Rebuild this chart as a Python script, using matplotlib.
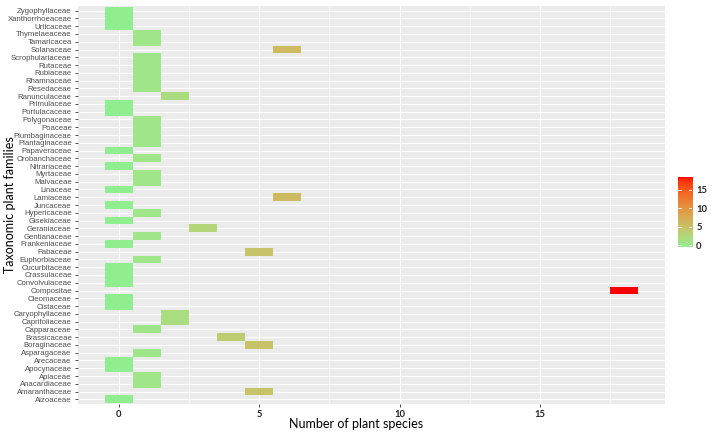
import numpy as np
import matplotlib.pyplot as plt
from matplotlib.colors import ListedColormap, Normalize, to_rgb

# families, bottom to top (alphabetical)
families = ['Aizoaceae', 'Amaranthaceae', 'Anacardiaceae', 'Apiaceae', 'Apocynaceae',
            'Arecaceae', 'Asparagaceae', 'Boraginaceae', 'Brassicaceae', 'Capparaceae',
            'Caprifoliaceae', 'Caryophyllaceae', 'Cistaceae', 'Cleomaceae', 'Compositae',
            'Convolvulaceae', 'Crassulaceae', 'Cucurbitaceae', 'Euphorbiaceae', 'Fabaceae',
            'Frankeniaceae', 'Gentianaceae', 'Geraniaceae', 'Gisekiaceae', 'Hypericaceae',
            'Juncaceae', 'Lamiaceae', 'Linaceae', 'Malvaceae', 'Myrtaceae',
            'Nitrariaceae', 'Orobanchaceae', 'Papaveraceae', 'Plantaginaceae', 'Plumbaginaceae',
            'Poaceae', 'Polygonaceae', 'Portulacaceae', 'Primulaceae', 'Ranunculaceae',
            'Resedaceae', 'Rhamnaceae', 'Rubiaceae', 'Rutaceae', 'Scrophulariaceae',
            'Solanaceae', 'Tamaricacea', 'Thymelaeaceae', 'Urticaceae', 'Xanthorrhoeaceae',
            'Zygophyllaceae']
species = [0, 5, 1, 1, 0,
           0, 1, 5, 4, 1,
           2, 2, 0, 0, 18,
           0, 0, 0, 1, 5,
           0, 1, 3, 0, 1,
           0, 6, 0, 1, 1,
           0, 1, 0, 1, 1,
           1, 1, 0, 0, 2,
           1, 1, 1, 1, 1,
           6, 1, 1, 0, 0,
           0]
legend_ticks = [0, 5, 10, 15]


# ggplot-like gradient (interpolated in CIELAB)
def srgb_to_lab(c):
    c = np.asarray(c, float)
    lin = np.where(c <= 0.04045, c / 12.92, ((c + 0.055) / 1.055) ** 2.4)
    m = np.array([[0.4124, 0.3576, 0.1805],
                  [0.2126, 0.7152, 0.0722],
                  [0.0193, 0.1192, 0.9505]])
    xyz = m @ lin / np.array([0.95047, 1.0, 1.08883])
    f = np.where(xyz > 0.008856, np.cbrt(xyz), 7.787 * xyz + 16 / 116)
    return np.array([116 * f[1] - 16, 500 * (f[0] - f[1]), 200 * (f[1] - f[2])])


def lab_to_srgb(lab):
    L, a, b = lab
    fy = (L + 16) / 116
    fx = fy + a / 500
    fz = fy - b / 200
    f = np.array([fx, fy, fz])
    xyz = np.where(f > 0.2069, f ** 3, (f - 16 / 116) / 7.787) * np.array([0.95047, 1.0, 1.08883])
    m = np.array([[3.2406, -1.5372, -0.4986],
                  [-0.9689, 1.8758, 0.0415],
                  [0.0557, -0.2040, 1.0570]])
    lin = m @ xyz
    lin = np.clip(lin, 0, 1)
    c = np.where(lin <= 0.0031308, 12.92 * lin, 1.055 * lin ** (1 / 2.4) - 0.055)
    return np.clip(c, 0, 1)


lo = srgb_to_lab(to_rgb('lightgreen'))
hi = srgb_to_lab(to_rgb('red'))
cmap = ListedColormap([lab_to_srgb(lo + (hi - lo) * t) for t in np.linspace(0, 1, 256)])
norm = Normalize(0, 18)

fig = plt.figure(figsize=(7.13, 4.32), dpi=100)
ax = fig.add_axes([0.1094, 0.0648, 0.8233, 0.9213])
ax.set_facecolor('#EBEBEB')

y = np.arange(len(families))
vals = np.array(species)
ax.barh(y, 1, left=vals - 0.5, height=1, color=cmap(norm(vals)), zorder=3)

ax.set_xlim(-1.45, 19.45)
ax.set_ylim(-0.6, len(families) - 0.4)
ax.set_xticks([0, 5, 10, 15])
ax.set_xticks([2.5, 7.5, 12.5, 17.5], minor=True)
ax.set_yticks(y)
ax.set_yticklabels(families, family='Liberation Sans', fontsize=5.6, color='#4D4D4D')
for lab in ax.get_xticklabels():
    lab.set_fontfamily('Lato')
    lab.set_fontweight('bold')
    lab.set_fontsize(6.8)
    lab.set_color('#222222')
ax.grid(which='major', color='white', linewidth=0.8, zorder=1)
ax.grid(which='minor', axis='x', color='white', linewidth=0.4, zorder=1)
ax.tick_params(which='major', length=2.5, width=0.6, color='#333333', pad=2)
ax.tick_params(axis='x', pad=1.5)
ax.tick_params(which='minor', length=0)
for s in ax.spines.values():
    s.set_visible(False)
ax.set_axisbelow(True)

ax.set_xlabel('Number of plant species', family='Lato', fontsize=9, va='center')
ax.set_ylabel('Taxonomic plant families', family='Lato', fontsize=9, va='center')
ax.xaxis.set_label_coords(0.474, -0.049)
ax.yaxis.set_label_coords(-0.116, 0.5)

# colour bar legend
cax = fig.add_axes([678 / 713, 1 - 247 / 432, 14 / 713, 70 / 432])
ext = 0.5 * 18 / 19
grad = np.linspace(0, 18, 200).reshape(-1, 1)
cax.imshow(grad, cmap=cmap, norm=norm, aspect='auto', origin='lower',
           extent=[0, 1, -ext, 18 + ext])
cax.set_xlim(0, 1)
cax.set_ylim(-ext, 18 + ext)
cax.set_xticks([])
cax.yaxis.tick_right()
cax.set_yticks(legend_ticks)
cax.tick_params(axis='y', length=0, pad=3)
for t in legend_ticks:
    cax.plot([0, 0.2], [t, t], color='white', lw=0.6)
    cax.plot([0.8, 1], [t, t], color='white', lw=0.6)
for lab in cax.get_yticklabels():
    lab.set_fontfamily('Lato')
    lab.set_fontweight('bold')
    lab.set_fontsize(6.8)
    lab.set_color('#222222')
for s in cax.spines.values():
    s.set_visible(False)

fig.savefig('out.png', dpi=100)
